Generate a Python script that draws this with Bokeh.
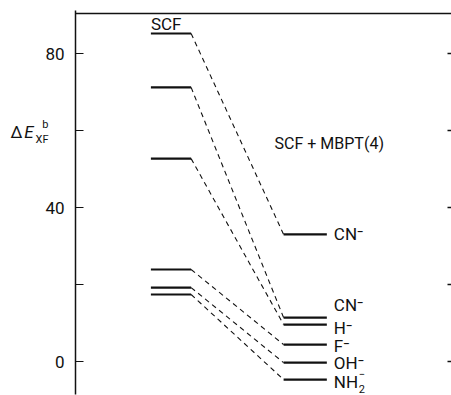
from bokeh.plotting import figure
from bokeh.models import Range1d, FixedTicker, LinearAxis, Span, ColumnDataSource
from bokeh.core.properties import value
from bokeh.embed import file_html
from bokeh.resources import INLINE

# ---- data ----
scf_energy = [85.2, 71.2, 52.7, 23.9, 19.2, 17.4]
mbpt_energy = [33.0, 11.4, 9.6, 4.4, -0.3, -4.7]
ion_labels = ["CN\u207b", "CN\u207b", "H\u207b", "F\u207b", "OH\u207b", "NH"]
y_ticks = [0, 20, 40, 60, 80]
y_tick_labels = {0: "0", 20: "", 40: "40", 60: "", 80: "80"}

# ---- layout constants ----
SCF_X0, SCF_X1 = 0.0, 1.0
MB_X0, MB_X1 = 3.3, 4.375
LABEL_X = 4.55
label_dy = [0, -13, 3, 1, 0, 2]
YLAB_Y, YLAB_SUP_Y, YLAB_SUB_Y = 59.6, 61.6, 57.7   # vertical anchor of the y-axis title pieces
FONT = "Roboto"
INK = "#111111"

p = figure(width=451, height=395,
           x_range=Range1d(-1.875, 7.475), y_range=Range1d(-8.57, 91.17),
           output_backend="svg", toolbar_location=None,
           x_axis_location=None, y_axis_location="left",
           min_border_left=75, min_border_right=0, min_border_top=10, min_border_bottom=1)
p.grid.visible = False
p.outline_line_color = None
p.background_fill_color = "white"
p.border_fill_color = "white"

ya = p.yaxis[0]
ya.ticker = FixedTicker(ticks=y_ticks)
ya.major_label_overrides = y_tick_labels
ya.major_tick_in = 8
ya.major_tick_out = 0
ya.minor_tick_line_color = None
ya.axis_line_width = 1.5
ya.axis_line_color = INK
ya.major_tick_line_color = INK
ya.major_tick_line_width = 1.2
ya.major_label_standoff = 11
ya.major_label_text_font = FONT
ya.major_label_text_font_size = "17px"
ya.major_label_text_color = INK

# y-axis title  ΔE^b_XF, built from label-only axes stacked on the left
def title_axis(ticks, texts, size, standoff, style="normal"):
    ax = LinearAxis(ticker=FixedTicker(ticks=ticks),
                    major_label_overrides=dict(zip(ticks, texts)),
                    axis_line_color=None, major_tick_line_color=None,
                    minor_tick_line_color=None, major_tick_in=0, major_tick_out=0,
                    major_label_standoff=standoff, major_label_text_font=FONT,
                    major_label_text_font_size=size, major_label_text_font_style=style,
                    major_label_text_color=INK)
    p.add_layout(ax, "left")

title_axis([YLAB_SUP_Y, YLAB_SUB_Y], ["b", "XF"], "11px", -6)
title_axis([YLAB_Y], ["E"], "17px", -1, "italic")
title_axis([YLAB_Y], ["\u0394"], "17px", -1)

ra = LinearAxis(ticker=FixedTicker(ticks=y_ticks),
                major_label_overrides={t: "" for t in y_ticks},
                major_tick_in=4, major_tick_out=0, axis_line_color=None,
                minor_tick_line_color=None, major_label_standoff=0,
                major_label_text_font_size="0px", major_tick_line_color=INK,
                major_tick_line_width=1.5)
p.add_layout(ra, "right")

p.add_layout(Span(location=90.39, dimension="width", line_color=INK, line_width=1.5))

src = ColumnDataSource(dict(scf=scf_energy, mbpt=mbpt_energy, lab=ion_labels, dy=label_dy))

# dashed connectors
p.segment(x0=SCF_X1, x1=MB_X0, y0="scf", y1="mbpt", source=src,
          line_color=INK, line_width=1.1, line_dash="5 4")
# levels
p.segment(x0=SCF_X0, x1=SCF_X1, y0="scf", y1="scf", source=src, line_color=INK, line_width=2.2)
p.segment(x0=MB_X0, x1=MB_X1, y0="mbpt", y1="mbpt", source=src, line_color=INK, line_width=2.2)

# ion labels
p.text(x=LABEL_X, y="mbpt", text="lab", y_offset="dy", source=src,
       text_font=value(FONT), text_font_size="17px", text_color=INK,
       text_baseline="middle", text_align="left")
# NH2- sub/superscript
p.text(x=[LABEL_X], y=[mbpt_energy[5]], text=["2"], x_offset=[25], y_offset=[9],
       text_font=value(FONT), text_font_size="11px", text_color=INK,
       text_baseline="middle", text_align="left")
p.text(x=[LABEL_X], y=[mbpt_energy[5]], text=["\u2212"], x_offset=[25], y_offset=[-6],
       text_font=value(FONT), text_font_size="11px", text_color=INK,
       text_baseline="middle", text_align="left")

# SCF header and method label
p.text(x=[SCF_X0], y=[scf_energy[0]], text=["SCF"], y_offset=[-9],
       text_font=value(FONT), text_font_size="17px", text_color=INK,
       text_baseline="middle", text_align="left")
p.text(x=[3.075], y=[56.6], text=["SCF + MBPT(4)"],
       text_font=value(FONT), text_font_size="16px", text_color=INK,
       text_baseline="middle", text_align="left")

open("out.html", "w").write(file_html(p, INLINE))
